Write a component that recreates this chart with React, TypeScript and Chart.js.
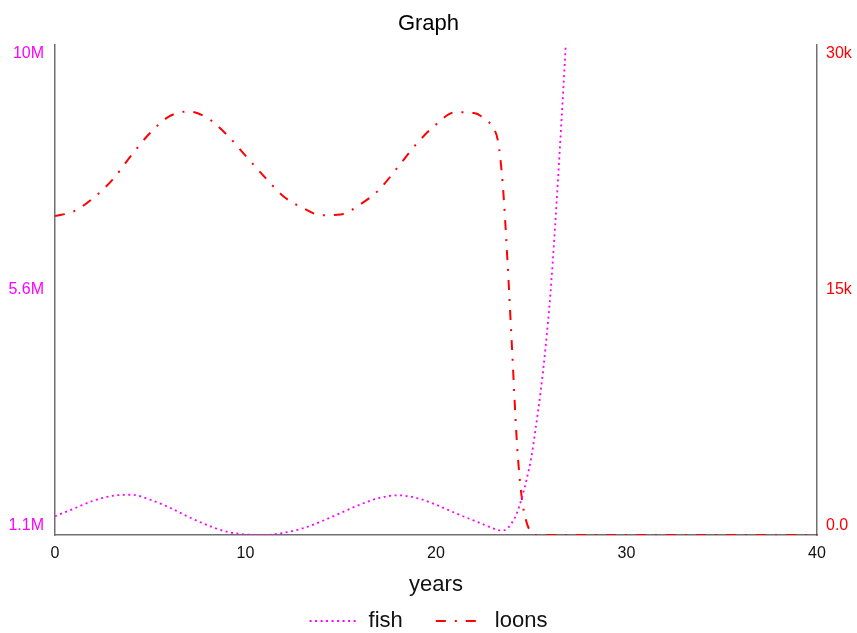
import { useEffect, useRef } from 'react';
import { Chart, registerables } from 'chart.js';

Chart.register(...registerables);

// Simulation time (years); sampled more finely around the crash
const years = [
  0, 1, 2, 3, 4, 5, 6, 7, 8, 9, 10, 11, 12, 13, 14, 15, 16, 17, 18, 19, 20, 21, 22, 22.5,
  23, 23.25, 23.5, 23.75, 24, 24.25, 24.5, 24.75, 25, 25.25, 25.5, 25.75, 26, 26.25, 26.5, 26.75, 27,
  27.5, 28, 29, 30, 31, 32, 33, 34, 35, 36, 37, 38, 39, 40,
];

// Fish population (left axis)
const fish = [
  1.44e6, 1.58e6, 1.72e6, 1.81e6, 1.83e6, 1.74e6, 1.6e6, 1.43e6, 1.28e6, 1.16e6, 1.11e6, 1.1e6,
  1.14e6, 1.22e6, 1.35e6, 1.5e6, 1.65e6, 1.77e6, 1.82e6, 1.77e6, 1.65e6, 1.5e6, 1.36e6, 1.29e6,
  1.22e6, 1.19e6, 1.18e6, 1.22e6, 1.33e6, 1.5e6, 1.77e6, 2.1e6, 2.5e6, 3.08e6, 3.72e6, 4.5e6,
  5.45e6, 6.69e6, 8.1e6, 9.6e6, 11.2e6, 14.5e6,
  null, null, null, null, null, null, null, null, null, null, null, null, null,
];

// Loon population (right axis)
const loons = [
  19500, 19800, 20600, 21700, 23200, 24600, 25600, 25900, 25500, 24500, 23200, 21900, 20700,
  20000, 19550, 19600, 20200, 21100, 22500, 23950, 25100, 25850, 25800, 25500,
  24900, 24100, 21500, 16800, 11200, 5600, 2300, 800, 150, 0, 0, 0, 0, 0, 0, 0, 0,
  0, 0, 0, 0, 0, 0, 0, 0, 0, 0, 0, 0, 0, 0,
];

const fishTicks = [1.1e6, 5.55e6, 10e6];
const fishTickLabels = ['1.1M', '5.6M', '10M'];
const loonTicks = [0, 15000, 30000];
const loonTickLabels = ['0.0', '15k', '30k'];

const FONT = '"Liberation Sans", Arial, Helvetica, sans-serif';
const FISH_COLOR = '#ff00ff';
const LOON_COLOR = '#ff0000';
const AXIS_COLOR = '#707070';

// Value labels on the two vertical axes; the end labels sit just inside the axis ends
const sideLabels = {
  id: 'sideLabels',
  afterDraw(chart: any) {
    const ctx = chart.ctx;
    const drawSide = (id: string, values: number[], labels: string[], color: string, left: boolean) => {
      const s = chart.scales[id];
      ctx.save();
      ctx.font = `16px ${FONT}`;
      ctx.fillStyle = color;
      ctx.textBaseline = 'middle';
      ctx.textAlign = left ? 'right' : 'left';
      const x = left ? s.right - 11 : s.left + 9;
      values.forEach((v, i) => {
        let y = s.getPixelForValue(v);
        if (i === 0) y -= 9;
        if (i === values.length - 1) y += 9;
        ctx.fillText(labels[i], x, y);
      });
      ctx.restore();
    };
    drawSide('y', fishTicks, fishTickLabels, FISH_COLOR, true);
    drawSide('y1', loonTicks, loonTickLabels, LOON_COLOR, false);
  },
};

export default function App() {
  const canvasRef = useRef<HTMLCanvasElement | null>(null);

  useEffect(() => {
    if (!canvasRef.current) return;
    const chart = new Chart(canvasRef.current, {
      type: 'line',
      data: {
        datasets: [
          {
            label: 'fish',
            data: years.map((t, i) => ({ x: t, y: fish[i] })),
            yAxisID: 'y',
            borderColor: FISH_COLOR,
            backgroundColor: FISH_COLOR,
            borderWidth: 1.8,
            borderDash: [2, 3.5],
            pointRadius: 0,
            cubicInterpolationMode: 'monotone',
            spanGaps: false,
          },
          {
            label: 'loons',
            data: years.map((t, i) => ({ x: t, y: loons[i] })),
            yAxisID: 'y1',
            borderColor: LOON_COLOR,
            backgroundColor: LOON_COLOR,
            borderWidth: 2,
            borderDash: [10, 9, 2, 9],
            pointRadius: 0,
            cubicInterpolationMode: 'monotone',
          },
        ],
      },
      options: {
        animation: false,
        responsive: true,
        maintainAspectRatio: false,
        layout: { padding: 0 },
        plugins: {
          title: {
            display: true,
            text: 'Graph',
            color: '#000',
            font: { family: FONT, size: 22, weight: 'normal' },
            padding: { top: 11, bottom: 7 },
          },
          legend: {
            display: true,
            position: 'bottom',
            maxHeight: 56,
            labels: {
              color: '#111',
              font: { family: FONT, size: 22 },
              usePointStyle: true,
              pointStyle: 'line',
              pointStyleWidth: 48,
              padding: 33,
              // legend samples carry each series' own dash pattern
              generateLabels(chart: any) {
                const items = Chart.defaults.plugins.legend.labels.generateLabels(chart);
                items.forEach((item: any) => {
                  const ds: any = chart.data.datasets[item.datasetIndex];
                  item.lineDash = ds.borderDash;
                  item.lineWidth = ds.borderWidth;
                  item.strokeStyle = ds.borderColor;
                });
                return items;
              },
            },
          },
          tooltip: { enabled: false },
        },
        scales: {
          x: {
            type: 'linear',
            min: 0,
            max: 40,
            grid: { display: false, drawTicks: false },
            border: { display: true, color: AXIS_COLOR, width: 1.5 },
            ticks: {
              stepSize: 10,
              color: '#111',
              font: { family: FONT, size: 16 },
              padding: 9,
              maxRotation: 0,
            },
            title: {
              display: true,
              text: 'years',
              color: '#111',
              font: { family: FONT, size: 22 },
              padding: { top: 0, bottom: -21 },
            },
            afterFit(scale: any) {
              scale.height = 42;
            },
          },
          y: {
            type: 'linear',
            position: 'left',
            min: 1.1e6,
            max: 10e6,
            grid: { display: false, drawTicks: false },
            border: { display: true, color: AXIS_COLOR, width: 1.5 },
            ticks: { display: false },
            afterFit(scale: any) {
              scale.width = 55;
            },
          },
          y1: {
            type: 'linear',
            position: 'right',
            min: 0,
            max: 30000,
            grid: { display: false, drawTicks: false },
            border: { display: true, color: AXIS_COLOR, width: 1.5 },
            ticks: { display: false },
            afterFit(scale: any) {
              scale.width = 40;
            },
          },
        },
      },
      plugins: [sideLabels],
    } as any);
    return () => chart.destroy();
  }, []);

  return (
    <div style={{ position: 'fixed', left: 0, top: 0, width: 857, height: 633, background: '#fff' }}>
      <canvas ref={canvasRef} />
    </div>
  );
}
